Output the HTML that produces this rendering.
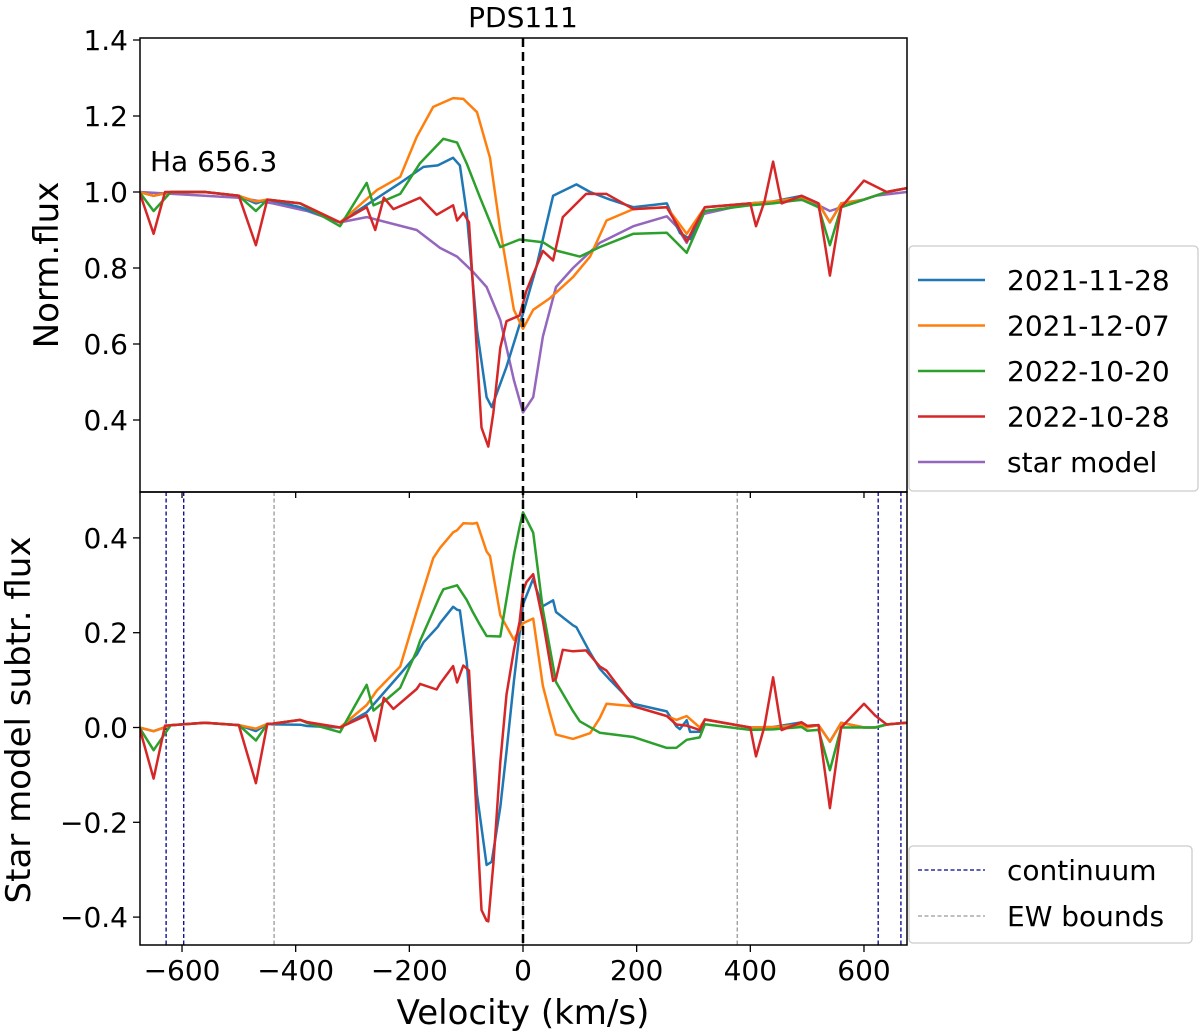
<!DOCTYPE html>
<html><head><meta charset="utf-8"><style>
body{margin:0;background:#fff;}
svg{display:block;font-family:"DejaVu Sans","Liberation Sans",sans-serif;}
</style></head><body>
<svg id="chart" width="1200" height="1033" viewBox="0 0 1200 1033"></svg>
<script>
// ---- data ----
const seriesNames = ["2021-11-28","2021-12-07","2022-10-20","2022-10-28"];
const seriesColors = ["#1f77b4","#ff7f0e","#2ca02c","#d62728"];
const blueV = [-675,-650,-620,-560,-500,-470,-450,-392,-322,-275,-216,-175,-150,-123,-111,-99,-81,-64,-55,-29,0,23,53,94,118,153,194,253,276,294,320,400,440,490,520,540,560,600,640,675];
const blueF = [1.0,0.99,1.0,1.0,0.99,0.97,0.98,0.96,0.92,0.966,1.024,1.066,1.07,1.09,1.07,0.945,0.637,0.46,0.434,0.54,0.68,0.80,0.99,1.02,1.0,0.98,0.96,0.97,0.892,0.876,0.96,0.97,0.975,0.99,0.97,0.92,0.97,0.98,1.0,1.01];
const orangeV = [-675,-650,-620,-560,-500,-470,-450,-392,-322,-257,-216,-187,-158,-123,-105,-81,-58,-40,-16,0,18,47,88,118,147,194,253,288,320,400,440,490,520,540,560,600,640,675];
const orangeF = [1.0,0.99,1.0,1.0,0.99,0.975,0.98,0.97,0.92,1.005,1.04,1.145,1.224,1.247,1.245,1.21,1.09,0.9,0.69,0.64,0.69,0.72,0.776,0.83,0.925,0.955,0.96,0.89,0.96,0.97,0.975,0.985,0.97,0.92,0.97,0.98,1.0,1.01];
const greenV = [-675,-650,-620,-560,-500,-470,-450,-392,-322,-275,-263,-216,-181,-140,-116,-99,-76,-40,-6,35,58,100,135,194,253,288,320,400,440,490,520,540,560,600,640,675];
const greenF = [1.0,0.95,1.0,1.0,0.99,0.95,0.98,0.97,0.91,1.024,0.965,0.995,1.076,1.14,1.13,1.075,0.987,0.855,0.875,0.868,0.846,0.83,0.855,0.89,0.893,0.84,0.95,0.965,0.97,0.98,0.96,0.86,0.96,0.98,1.0,1.01];
const redV = [-675,-650,-630,-560,-500,-470,-450,-392,-322,-275,-260,-245,-228,-181,-152,-123,-116,-105,-95,-88,-73,-61,-52,-40,-29,-6,6,35,53,70,111,147,194,253,288,320,400,410,425,440,455,490,520,540,560,600,640,675];
const redF = [1.0,0.89,1.0,1.0,0.99,0.86,0.98,0.97,0.92,0.96,0.9,0.985,0.955,0.985,0.94,0.965,0.925,0.945,0.92,0.75,0.38,0.33,0.42,0.59,0.66,0.675,0.74,0.845,0.82,0.934,0.995,0.995,0.955,0.96,0.87,0.96,0.97,0.91,0.975,1.08,0.97,0.99,0.97,0.78,0.96,1.03,1.0,1.01];
const modelV = [-675,-560,-500,-440,-380,-322,-275,-187,-146,-116,-88,-64,-40,-16,0,18,35,58,88,135,194,253,270,288,311,400,450,500,540,580,620,675];
const modelF = [1.0,0.99,0.985,0.97,0.95,0.92,0.934,0.90,0.853,0.83,0.79,0.75,0.663,0.505,0.42,0.46,0.62,0.75,0.80,0.866,0.91,0.936,0.91,0.866,0.94,0.97,0.975,0.98,0.95,0.97,0.99,1.0];
const xTicks = [-600,-400,-200,0,200,400,600];
const topTicks = [0.4,0.6,0.8,1.0,1.2,1.4];
const botTicks = [-0.4,-0.2,0.0,0.2,0.4];
const continuumBounds = [-628,-597,625,665];
const ewBounds = [-438,377];

// ---- geometry ----
const L=140,R=907,T1=38,B1=492,T2=492,B2=945;
const xs = v => 523 + v*0.5683;
const y1 = f => 420 - (f-0.4)*380;
const y2 = f => 727.5 - f*474;
const svg = document.getElementById('chart');
const NS='http://www.w3.org/2000/svg';
function mk(tag, attrs, parent){const e=document.createElementNS(NS,tag);for(const k in attrs)e.setAttribute(k,attrs[k]);(parent||svg).appendChild(e);return e;}
function interp(V,F,v){if(v<=V[0])return F[0];for(let i=1;i<V.length;i++){if(v<=V[i]){const t=(v-V[i-1])/(V[i]-V[i-1]);return F[i-1]+t*(F[i]-F[i-1]);}}return F[F.length-1];}

const defs=mk('defs',{});
const c1=mk('clipPath',{id:'c1'},defs);mk('rect',{x:L,y:T1,width:R-L,height:B1-T1},c1);
const c2=mk('clipPath',{id:'c2'},defs);mk('rect',{x:L,y:T2,width:R-L,height:B2-T2},c2);

const g1=mk('g',{'clip-path':'url(#c1)'});


const g2=mk('g',{'clip-path':'url(#c2)'});



continuumBounds.forEach(v=>{const l=mk('line',{x1:xs(v),x2:xs(v),y1:T2,y2:B2,stroke:'#00008b','stroke-width':1.3,'stroke-dasharray':'4,2.5'},g2);

});
ewBounds.concat([0]).forEach(v=>{const l=mk('line',{x1:xs(v),x2:xs(v),y1:T2,y2:B2,stroke:'#999','stroke-width':1.3,'stroke-dasharray':'4,2.5'},g2);

});

const allV=[blueV,orangeV,greenV,redV], allF=[blueF,orangeF,greenF,redF];
{const p=modelV.map((v,i)=>(i?'L':'M')+xs(v).toFixed(1)+','+y1(modelF[i]).toFixed(1)).join('');
const e=mk('path',{d:p,fill:'none',stroke:'#9467bd','stroke-width':2.5,'stroke-linejoin':'round'},g1);

}
for(let s=0;s<4;s++){
  const V=allV[s],F=allF[s];
  const p=V.map((v,i)=>(i?'L':'M')+xs(v).toFixed(1)+','+y1(F[i]).toFixed(1)).join('');
  const e=mk('path',{d:p,fill:'none',stroke:seriesColors[s],'stroke-width':2.5,'stroke-linejoin':'round'},g1);
  
  
  const vv=Array.from(new Set(V.concat(modelV))).sort((a,b)=>a-b);
  const p2=vv.map((v,i)=>(i?'L':'M')+xs(v).toFixed(1)+','+y2(interp(V,F,v)-interp(modelV,modelF,v)).toFixed(1)).join('');
  const e2=mk('path',{d:p2,fill:'none',stroke:seriesColors[s],'stroke-width':2.5,'stroke-linejoin':'round'},g2);
  
  
}
{const l=mk('line',{x1:xs(0),x2:xs(0),y1:T1,y2:B2,stroke:'#000','stroke-width':2.5,'stroke-dasharray':'9,5'});

}

[[T1,B1,'top-axes-frame'],[T2,B2,'bottom-axes-frame']].forEach(([t,b,n])=>{const r=mk('rect',{x:L,y:t,width:R-L,height:b-t,fill:'none',stroke:'#000','stroke-width':1.5});

});

function txt(x,y,s,size,anchor,name,extra){const t=mk('text',Object.assign({x:x,y:y,'font-size':size,'text-anchor':anchor||'middle',fill:'#000'},extra||{}));t.textContent=s;

return t;}
xTicks.forEach(v=>{const x=xs(v);
  mk('line',{x1:x,x2:x,y1:B1,y2:B1+6,stroke:'#000','stroke-width':1.3});
  mk('line',{x1:x,x2:x,y1:B2,y2:B2+7,stroke:'#000','stroke-width':1.3});
  txt(x,980,(v<0?'\u2212'+(-v):String(v)),28,'middle','x-tick-label');});
topTicks.forEach(f=>{const y=y1(f);mk('line',{x1:L-7,x2:L,y1:y,y2:y,stroke:'#000','stroke-width':1.3});
  txt(L-12,y+10,f.toFixed(1),28,'end','top-y-tick-label');});
botTicks.forEach(f=>{const y=y2(f);mk('line',{x1:L-7,x2:L,y1:y,y2:y,stroke:'#000','stroke-width':1.3});
  txt(L-12,y+10,(f<0?'\u2212'+(-f).toFixed(1):f.toFixed(1)),28,'end','bottom-y-tick-label');});

txt(523,27,'PDS111',28,'middle','chart-title');
txt(150,171,'Ha 656.3',28,'start','line-annotation');
txt(0,0,'Norm.flux',34,'middle','top-y-axis-title',{transform:'translate(58,265) rotate(-90)'});
txt(0,0,'Star model subtr. flux',34,'middle','bottom-y-axis-title',{transform:'translate(30,720) rotate(-90)'});
txt(523,1024,'Velocity (km/s)',34,'middle','x-axis-title');

{const lg=mk('g',{});
mk('rect',{x:909,y:246,width:289,height:245,rx:4,fill:'#fff',stroke:'#ccc','stroke-width':1.3},lg);
const names=seriesNames.concat(['star model']), cols=seriesColors.concat(['#9467bd']);
names.forEach((n,i)=>{const y=280+i*45.5;
  const l=mk('line',{x1:918,x2:985,y1:y,y2:y,stroke:cols[i],'stroke-width':2.5},lg);
  
  
  txt(1007,y+10,n,28,'start','legend-entry');});}
{const lg=mk('g',{});
mk('rect',{x:909,y:846,width:283,height:97,rx:4,fill:'#fff',stroke:'#ccc','stroke-width':1.3},lg);
[['continuum','#00008b'],['EW bounds','#999']].forEach(([n,c],i)=>{const y=870+i*46;
  const l=mk('line',{x1:918,x2:985,y1:y,y2:y,stroke:c,'stroke-width':1.3,'stroke-dasharray':'4,2.5'},lg);
  
  
  txt(1007,y+10,n,28,'start','legend-entry');});}
</script>
</body></html>
